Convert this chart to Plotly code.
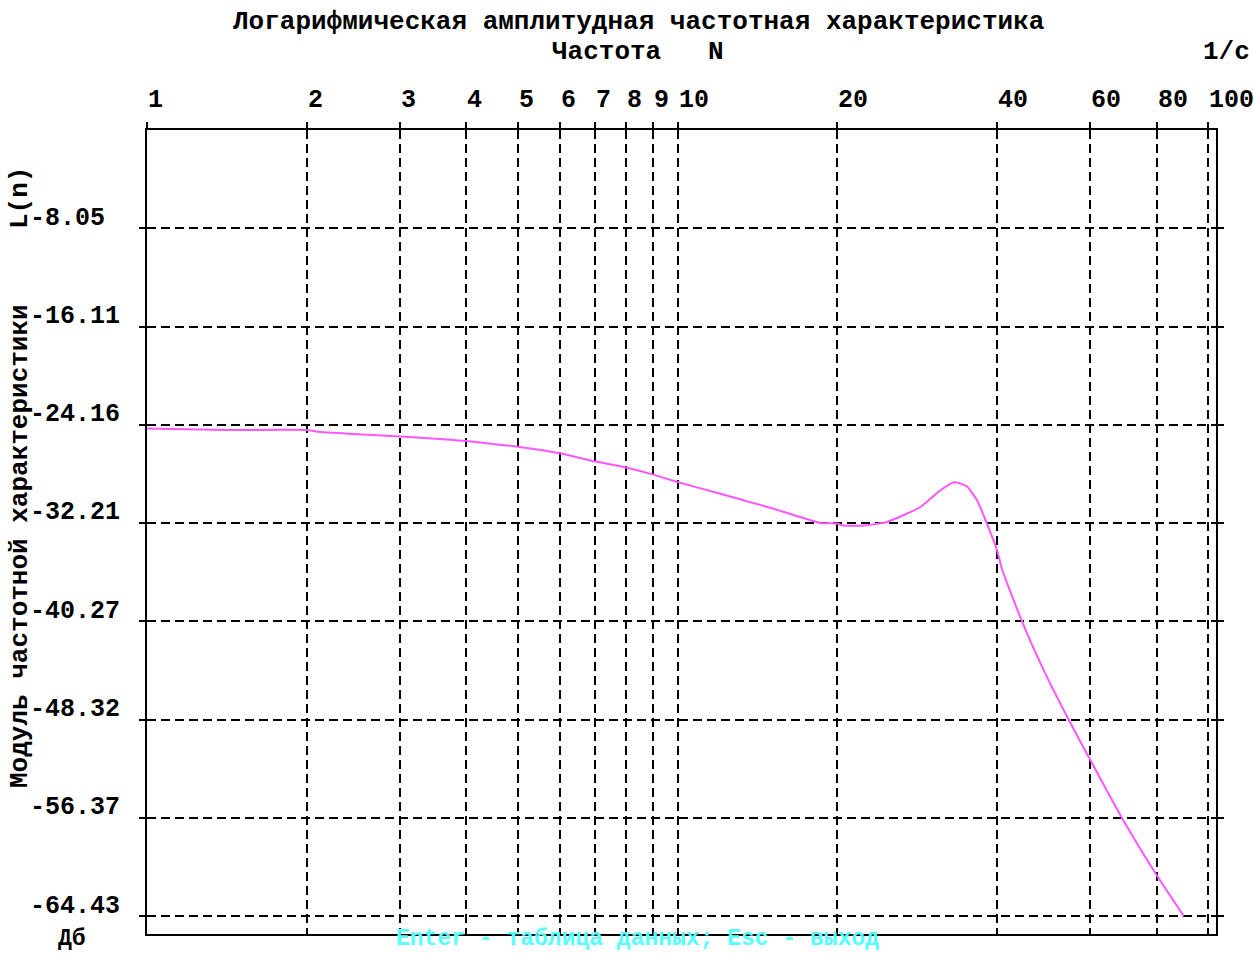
import math
import plotly.graph_objects as go

# ---- data ----
freq = [1, 1.41, 2, 2.12, 2.45, 3, 3.73, 4, 4.5, 5, 6, 7, 8, 9, 10, 12, 15,
        18.6, 20, 20.5, 22.4, 24.8, 28.7, 31.3, 33.2, 35.1, 36.7, 38.3, 40,
        40.9, 44.6, 49.7, 54.6, 60, 68.8, 80, 90]
L_db = [-24.46, -24.59, -24.59, -24.76, -24.92, -25.12, -25.39, -25.5, -25.74,
        -25.96, -26.5, -27.17, -27.66, -28.25, -28.85, -29.8, -30.98, -32.21,
        -32.26, -32.42, -32.42, -32.13, -30.9, -29.53, -28.87, -29.2, -30.35,
        -32.26, -34.4, -36.0, -40.27, -44.83, -48.32, -51.64, -56.37, -61.07,
        -64.43]

x_ticks = [1, 2, 3, 4, 5, 6, 7, 8, 9, 10, 20, 40, 60, 80, 100]
x_tick_text = ["1", "2", "3", "4", "5", "6", "7", "8", "9", "10", "20", "40", "60", "80", "100"]
y_ticks = [-8.05, -16.11, -24.16, -32.21, -40.27, -48.32, -56.37, -64.43]
y_tick_text = ["-8.05", "-16.11", "-24.16", "-32.21", "-40.27", "-48.32", "-56.37", "-64.43"]

title_text = "Логарифмическая амплитудная частотная характеристика"
x_title = "Частота"
x_unit_n = "N"
x_unit = "1/c"
y_title = "Модуль частотной характеристики"
y_title2 = "L(n)"
y_unit = "Дб"
footer = "Enter - таблица данных; Esc - выход"

FONT = "Liberation Mono"
FS = 25
FS_T = 26
FS_B = 23
W, H = 1254, 953
L_M, R_M, T_M, B_M = 147, 38, 130, 19
PW = W - L_M - R_M
PH = H - T_M - B_M


def px_x(p):
    return (p - L_M) / PW


def px_y(p):
    return (H - B_M - p) / PH


fig = go.Figure()
fig.add_trace(go.Scatter(
    x=freq, y=L_db, mode="lines",
    line=dict(color="#FF55FF", width=2, shape="spline", smoothing=0.5),
    showlegend=False, hoverinfo="skip",
))
# helper invisible trace for the bottom (inside-ticks) axis
fig.add_trace(go.Scatter(x=[freq[0]], y=[L_db[0]], xaxis="x2", mode="markers",
                         marker=dict(opacity=0), showlegend=False, hoverinfo="skip"))

x_range = [0, (1215.7 - 146.7) / 530.5]
y_range = [-65.9, 0]

fig.update_layout(
    width=W, height=H,
    margin=dict(l=L_M, r=R_M, t=T_M, b=B_M),
    paper_bgcolor="white", plot_bgcolor="white",
    font=dict(family=FONT, size=FS, color="black"),
    xaxis=dict(
        type="log", range=x_range, side="top",
        tickvals=x_ticks, showticklabels=False,
        ticks="outside", ticklen=6, tickwidth=2, tickcolor="black",
        showgrid=True, gridcolor="black", gridwidth=1.5, griddash="9px,5px",
        showline=True, linecolor="black", linewidth=2, mirror=True,
        zeroline=False,
    ),
    xaxis2=dict(
        type="log", range=x_range, overlaying="x", matches="x", side="bottom",
        tickvals=x_ticks, showticklabels=False,
        ticks="inside", ticklen=6, tickwidth=2, tickcolor="black",
        showgrid=False, showline=False, zeroline=False,
    ),
    yaxis=dict(
        range=y_range, tickvals=y_ticks, showticklabels=False,
        ticks="outside", ticklen=6, tickwidth=2, tickcolor="black",
        showgrid=True, gridcolor="black", gridwidth=1.5, griddash="9px,5px",
        showline=True, linecolor="black", linewidth=2, mirror="ticks",
        zeroline=False,
    ),
)

ann = []
# x tick labels (left-aligned at their grid lines, above the plot)
for v, t in zip(x_ticks, x_tick_text):
    ann.append(dict(x=math.log10(v), xref="x", y=px_y(100), yref="paper",
                    text="<b>" + t + "</b>", showarrow=False,
                    xanchor="left", yanchor="middle", xshift=-1,
                    font=dict(family=FONT, size=FS, color="black")))
# y tick labels (left-aligned, sitting just above their grid lines)
for v, t in zip(y_ticks, y_tick_text):
    ann.append(dict(x=px_x(28), xref="paper", y=v, yref="y",
                    text="<b>" + t + "</b>", showarrow=False,
                    xanchor="left", yanchor="middle", yshift=10,
                    font=dict(family=FONT, size=FS, color="black")))


def txt(text, xp, yp, color="black", bold=True, angle=0, size=FS, yanchor="middle"):
    ann.append(dict(x=px_x(xp), xref="paper", y=px_y(yp), yref="paper",
                    text=("<b>" + text + "</b>") if bold else text,
                    showarrow=False, xanchor="center", yanchor=yanchor,
                    textangle=angle, borderpad=0,
                    font=dict(family=FONT, size=size, color=color)))


txt(title_text, 638, 22, size=FS_T)
txt(x_title, 606, 52, size=FS_T)
txt(x_unit_n, 716, 52, size=FS_T)
txt(x_unit, 1226, 52, size=FS_T)
txt(y_title, 20, 546, angle=-90, size=FS_T)
txt(y_title2, 20, 198, angle=-90, size=FS_T)
txt(y_unit, 72, 953, size=FS_B, yanchor="bottom")
txt(footer, 637, 953, color="#55FFFF", size=FS_B, yanchor="bottom")

fig.update_layout(annotations=ann)
fig.write_html(
    "out.html",
    config={"displayModeBar": False},
    post_script="document.body.style.margin='0';document.body.style.overflow='hidden';",
)
